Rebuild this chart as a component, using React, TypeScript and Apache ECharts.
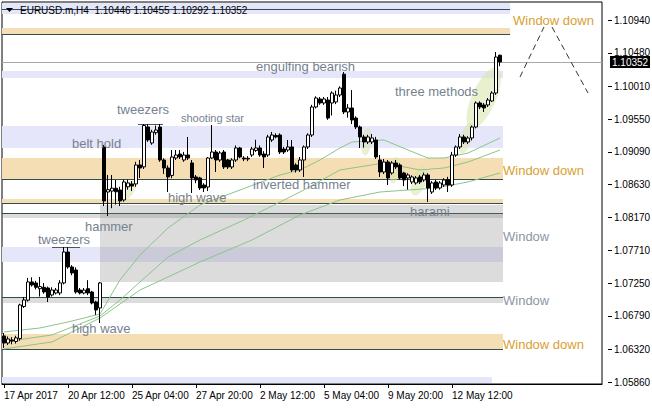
import React, { useEffect, useRef } from "react";
import * as echarts from "echarts";

// ---- data ----
const tickLabels = ["17 Apr 2017", "20 Apr 12:00", "25 Apr 04:00", "27 Apr 20:00", "2 May 12:00", "5 May 04:00", "9 May 20:00", "12 May 12:00"];
const priceTicks = [1.0586, 1.0632, 1.0679, 1.0725, 1.0771, 1.0817, 1.0863, 1.0909, 1.0955, 1.1001, 1.1048, 1.1094];

const opens = [
  1.06507, 1.06408, 1.06451, 1.0643, 1.0647, 1.0692, 1.0701, 1.07265, 1.0725, 1.0717,
  1.0719, 1.0718, 1.07082, 1.0711, 1.0711, 1.07251, 1.07685, 1.07475, 1.07433, 1.07152,
  1.0711, 1.0717, 1.07124, 1.06984, 1.069, 1.09159, 1.08527, 1.0854, 1.0858, 1.08555,
  1.08415, 1.086, 1.0864, 1.0864, 1.08906, 1.0888, 1.0944, 1.09215, 1.0936, 1.09439,
  1.08976, 1.08864, 1.0876, 1.09004, 1.0906, 1.08976, 1.09046, 1.08934, 1.08738, 1.08724,
  1.08625, 1.08597, 1.09004, 1.09088, 1.08976, 1.09088, 1.08976, 1.08878, 1.08976, 1.09145,
  1.09004, 1.0899, 1.09046, 1.0911, 1.09145, 1.0906, 1.09046, 1.09257, 1.0932, 1.09327,
  1.0913, 1.09116, 1.09159, 1.08906, 1.08836, 1.08976, 1.09159, 1.09327, 1.0972, 1.09832,
  1.09776, 1.09818, 1.09776, 1.0979, 1.09888, 1.1018, 1.0965, 1.09706, 1.09565, 1.09439,
  1.09299, 1.09229, 1.09229, 1.09257, 1.08976, 1.08808, 1.08948, 1.08794, 1.08934, 1.08906,
  1.08794, 1.08724, 1.08668, 1.08654, 1.08738, 1.08696, 1.08766, 1.08527, 1.08668, 1.08583,
  1.08625, 1.087, 1.08625, 1.09046, 1.09159, 1.09299, 1.09229, 1.09285, 1.09439, 1.09776,
  1.09748, 1.09748, 1.09804, 1.09916, 1.10446,
];
const highs = [
  1.06549, 1.065, 1.0649, 1.0651, 1.0696, 1.07054, 1.07321, 1.0733, 1.0728, 1.07335,
  1.0725, 1.072, 1.0719, 1.0718, 1.0729, 1.07756, 1.07756, 1.075, 1.0747, 1.0718,
  1.0718, 1.0729, 1.0714, 1.07, 1.07265, 1.09187, 1.08766, 1.08766, 1.08696, 1.086,
  1.087, 1.087, 1.0868, 1.0895, 1.08976, 1.09481, 1.09481, 1.094, 1.0946, 1.09481,
  1.09, 1.089, 1.09116, 1.09116, 1.09116, 1.0909, 1.09299, 1.08976, 1.08766, 1.0874,
  1.0865, 1.09018, 1.09467, 1.09116, 1.091, 1.09116, 1.0899, 1.09, 1.0918, 1.0916,
  1.0903, 1.0903, 1.0916, 1.0926, 1.0918, 1.091, 1.0933, 1.0937, 1.0935, 1.0935,
  1.0916, 1.09257, 1.09257, 1.0893, 1.09018, 1.0918, 1.0935, 1.0975, 1.0987, 1.0986,
  1.0986, 1.0986, 1.0994, 1.0995, 1.1001, 1.10211, 1.0976, 1.09958, 1.0959, 1.0946,
  1.0933, 1.0933, 1.0934, 1.093, 1.09046, 1.0899, 1.08976, 1.0896, 1.08976, 1.0893,
  1.0881, 1.0879, 1.0876, 1.0875, 1.08766, 1.088, 1.0879, 1.0868, 1.087, 1.0868,
  1.0872, 1.0874, 1.0909, 1.0918, 1.0934, 1.0933, 1.0931, 1.0946, 1.098, 1.098,
  1.09776, 1.09846, 1.0994, 1.10491, 1.10455,
];
const lows = [
  1.06339, 1.06381, 1.0639, 1.064, 1.0644, 1.069, 1.0699, 1.072, 1.0716, 1.0706,
  1.071, 1.06984, 1.0706, 1.0709, 1.0708, 1.0723, 1.0745, 1.0736, 1.071, 1.0709,
  1.0709, 1.0708, 1.0695, 1.06802, 1.06689, 1.0833, 1.0819, 1.083, 1.0835, 1.0833,
  1.0839, 1.0856, 1.0854, 1.086, 1.08724, 1.0885, 1.0923, 1.0919, 1.0933, 1.0895,
  1.0878, 1.08527, 1.0872, 1.08976, 1.0899, 1.0895, 1.08976, 1.08513, 1.0865, 1.08555,
  1.08527, 1.0854, 1.0899, 1.08808, 1.0895, 1.0885, 1.0885, 1.0885, 1.0895, 1.09,
  1.0896, 1.0896, 1.0902, 1.0909, 1.0902, 1.08864, 1.0902, 1.0923, 1.0928, 1.0906,
  1.0906, 1.0909, 1.08808, 1.088, 1.08808, 1.08738, 1.0913, 1.093, 1.097, 1.0975,
  1.0975, 1.0954, 1.096, 1.0976, 1.0986, 1.0962, 1.0957, 1.0948, 1.0941, 1.09145,
  1.0915, 1.092, 1.092, 1.0899, 1.08738, 1.0878, 1.08625, 1.0877, 1.0885, 1.087,
  1.0861, 1.0856, 1.0864, 1.0863, 1.0864, 1.0867, 1.08387, 1.085, 1.08555, 1.0856,
  1.086, 1.08527, 1.086, 1.0902, 1.0913, 1.092, 1.092, 1.0925, 1.0942, 1.0969,
  1.0965, 1.0972, 1.0979, 1.0989, 1.10292,
];
const closes = [
  1.06408, 1.06465, 1.06435, 1.0648, 1.06942, 1.07012, 1.07265, 1.07222, 1.0719, 1.072,
  1.07124, 1.07054, 1.07152, 1.07152, 1.07251, 1.07685, 1.07475, 1.07391, 1.07124, 1.0711,
  1.0715, 1.0711, 1.0697, 1.06872, 1.07251, 1.08401, 1.0856, 1.0858, 1.0853, 1.08401,
  1.08668, 1.08654, 1.0861, 1.08906, 1.08864, 1.0946, 1.09257, 1.09369, 1.09397, 1.08976,
  1.08864, 1.08738, 1.09018, 1.09046, 1.09018, 1.09046, 1.09004, 1.08724, 1.08696, 1.08583,
  1.08583, 1.09004, 1.09088, 1.08976, 1.09074, 1.08878, 1.08878, 1.08976, 1.09145, 1.09018,
  1.0899, 1.09, 1.0913, 1.09145, 1.09046, 1.09018, 1.09299, 1.09327, 1.093, 1.09088,
  1.09088, 1.09159, 1.08836, 1.08836, 1.08976, 1.09159, 1.09327, 1.0972, 1.09846, 1.09776,
  1.09832, 1.09565, 1.09916, 1.09888, 1.09986, 1.0965, 1.09706, 1.09537, 1.09439, 1.09299,
  1.09229, 1.09299, 1.09285, 1.09018, 1.08808, 1.08948, 1.08724, 1.08934, 1.08878, 1.08724,
  1.08696, 1.08766, 1.08738, 1.08724, 1.08668, 1.08766, 1.08583, 1.08654, 1.08583, 1.08654,
  1.08696, 1.08625, 1.09046, 1.09159, 1.09299, 1.09229, 1.09285, 1.09439, 1.09776, 1.0972,
  1.09706, 1.09818, 1.09916, 1.10421, 1.10352,
];

// moving averages at sample bars: [barIndex, price]
const maFast = [[0, 1.06563], [9, 1.06619], [16, 1.06703], [24, 1.06815], [29, 1.07293], [34, 1.07643], [41, 1.08022], [49, 1.08345], [59, 1.08555], [69, 1.08766], [74, 1.08836], [79, 1.08976], [84, 1.09145], [87, 1.09229], [95, 1.09257], [101, 1.09116], [106, 1.09004], [110, 1.09004], [116, 1.09074], [124, 1.09285]];
const maMid = [[0, 1.06423], [12, 1.06521], [24, 1.06787], [29, 1.07012], [34, 1.07265], [41, 1.07615], [49, 1.07854], [60, 1.08134], [74, 1.08527], [84, 1.08836], [95, 1.08934], [104, 1.08836], [110, 1.08864], [116, 1.08948], [124, 1.09116]];
const maSlow = [[0, 1.06325], [12, 1.06423], [24, 1.06759], [34, 1.07152], [41, 1.07335], [49, 1.07545], [62, 1.07854], [74, 1.08204], [84, 1.08415], [94, 1.08527], [108, 1.08583], [116, 1.08668], [124, 1.08794]];

// forecast legs: [barIndex, price]
const forecastUp = [[129, 1.10141], [135, 1.10842]];
const forecastDown = [[137, 1.10842], [146, 1.09916]];

// zones: [low, high, endBar, kind, linePrice|null, startBar|null]
const zones: [number, number, number, string, number | null, number | null][] = [
  [1.11024, 1.11179, 126.5, "lav", 1.11095, null],
  [1.10744, 1.10828, 126.5, "wheat", 1.10744, null],
  [1.10126, 1.10225, 124.75, "lav", null, null],
  [1.09145, 1.09453, 124.75, "lav", null, null],
  [1.08709, 1.09004, 124.75, "wheat", 1.08709, null],
  [1.08373, 1.08429, 124.75, "wheat", 1.08373, null],
  [1.08162, 1.08232, 124.75, "grey", 1.08232, null],
  [1.07545, 1.07756, 124.75, "lav", null, null],
  [1.07265, 1.08345, 124.75, "grey", null, 24],
  [1.0697, 1.07054, 124.75, "grey", 1.07054, null],
  [1.06324, 1.06535, 124.75, "wheat", 1.06324, null],
  [1.05846, 1.05932, 122, "lav", null, null],
];

// pattern highlights: [barA, priceA, barB, priceB, halfWidthPx]
const highlights = [
  [29.8, 1.0841, 32.7, 1.0869, 5],
  [90.2, 1.0904, 91.0, 1.0942, 5],
  [97.2, 1.0865, 98.0, 1.0902, 5],
  [102.5, 1.0848, 105.0, 1.0888, 7],
  [114.3, 1.0907, 116.8, 1.095, 6],
  [116.6, 1.0942, 123.3, 1.1027, 12],
];

// tweezers tops: [startBar, endBar, price]
const tweezerLines = [
  [33.5, 39.75, 1.09481],
  [12, 19, 1.07756],
];

const TOTAL_BARS = 150;

function buildCategories(n: number): string[] {
  const out: string[] = [];
  let t = Date.UTC(2017, 3, 17, 20);
  while (out.length < n) {
    const d = new Date(t);
    const wd = d.getUTCDay();
    if (wd !== 0 && wd !== 6) {
      out.push(d.toISOString().slice(0, 16).replace("T", " "));
    }
    t += 4 * 3600 * 1000;
  }
  return out;
}

function sparse(points: number[][], n: number): (number | null)[] {
  const arr: (number | null)[] = new Array(n).fill(null);
  points.forEach(([i, v]) => (arr[i] = v));
  return arr;
}

const FONT = "'Liberation Sans', Arial, sans-serif";
const ZONE_FILL: Record<string, string> = {
  lav: "#e6e6fa",
  wheat: "#f5deb3",
  grey: "rgba(128,128,128,0.28)",
};

export default function App() {
  const ref = useRef<HTMLDivElement>(null);

  useEffect(() => {
    if (!ref.current) return;
    const chart = echarts.init(ref.current, null, { renderer: "svg" });
    const categories = buildCategories(TOTAL_BARS);
    const candles = opens.map((o, i) => [o, closes[i], lows[i], highs[i]]);
    const lastClose = closes[closes.length - 1];

    const patternColor = "#76828f";
    const windowColor = "#8d96a3";
    const downColor = "#d9a032";

    const label = (text: string, x: number, y: number, fill: string, size = 13) => ({
      type: "text",
      x,
      y,
      z: 100,
      style: { text, fill, font: `${size}px ${FONT}`, verticalAlign: "middle" },
    });

    const option: any = {
      animation: false,
      backgroundColor: "#ffffff",
      grid: {
        left: 2,
        right: 50,
        top: 2,
        bottom: 24,
        show: true,
        borderColor: "#000",
        borderWidth: 1,
        backgroundColor: "#fff",
        outerBoundsMode: "none",
      },
      xAxis: {
        type: "category",
        data: categories,
        boundaryGap: true,
        axisLine: { show: true, lineStyle: { color: "#000" } },
        axisTick: {
          show: true,
          length: 4,
          alignWithLabel: true,
          interval: (i: number) => i % 16 === 0 && i / 16 < tickLabels.length,
          lineStyle: { color: "#000" },
        },
        axisLabel: {
          interval: (i: number) => i % 16 === 0 && i / 16 < tickLabels.length,
          formatter: (_v: string, i: number) => tickLabels[i / 16] ?? "",
          align: "left",
          color: "#000",
          fontSize: 10,
          fontFamily: FONT,
          margin: 6,
        },
        splitLine: { show: false },
      },
      yAxis: {
        type: "value",
        position: "right",
        min: 1.05833,
        max: 1.11193,
        offset: 6,
        splitLine: { show: false },
        axisLine: { show: false },
        axisTick: { show: true, length: 4, customValues: priceTicks, lineStyle: { color: "#000" } },
        axisLabel: {
          customValues: priceTicks,
          formatter: (v: number) => v.toFixed(5),
          color: "#000",
          fontSize: 10,
          fontFamily: FONT,
          margin: 6,
        },
      },
      series: [
        {
          type: "custom",
          name: "zones",
          z: 1,
          silent: true,
          data: zones.map((zz) => [0, zz[0]]),
          renderItem: (params: any, api: any) => {
            const [lo, hi, end, kind, line, start] = zones[params.dataIndex];
            const cs = params.coordSys;
            const band = api.size([1, 0])[0];
            const c0 = api.coord([0, hi]);
            const x0 = start == null ? cs.x : c0[0] + start * band;
            const x1 = c0[0] + end * band;
            const yTop = c0[1];
            const yBot = api.coord([0, lo])[1];
            const children: any[] = [
              { type: "rect", shape: { x: x0, y: yTop, width: x1 - x0, height: yBot - yTop }, style: { fill: ZONE_FILL[kind] } },
            ];
            if (line != null) {
              const yl = Math.round(api.coord([0, line])[1]) + 0.5;
              children.push({ type: "line", shape: { x1: x0, y1: yl, x2: x1, y2: yl }, style: { stroke: "#2f4f4f", lineWidth: 1 } });
            }
            return { type: "group", children };
          },
        },
        {
          type: "custom",
          name: "highlights",
          z: 2,
          silent: true,
          data: highlights.map((h) => [0, h[1]]),
          renderItem: (params: any, api: any) => {
            const [ia, pa, ib, pb, hw] = highlights[params.dataIndex];
            const band = api.size([1, 0])[0];
            const c0 = api.coord([0, pa]);
            const ax = c0[0] + ia * band;
            const ay = c0[1];
            const bx = c0[0] + ib * band;
            const by = api.coord([0, pb])[1];
            const cx = (ax + bx) / 2;
            const cy = (ay + by) / 2;
            const a = Math.hypot(bx - ax, by - ay) / 2;
            const ang = Math.atan2(by - ay, bx - ax);
            const pts: number[][] = [];
            for (let k = 0; k < 48; k++) {
              const t = (k / 48) * Math.PI * 2;
              const lx = a * Math.cos(t);
              const ly = hw * Math.sin(t);
              pts.push([cx + lx * Math.cos(ang) - ly * Math.sin(ang), cy + lx * Math.sin(ang) + ly * Math.cos(ang)]);
            }
            return { type: "polygon", shape: { points: pts }, style: { fill: "rgba(214,228,170,0.55)" } };
          },
        },
        {
          type: "custom",
          name: "tweezers",
          z: 3,
          silent: true,
          data: tweezerLines.map((t) => [0, t[2]]),
          renderItem: (params: any, api: any) => {
            const [s, e, p] = tweezerLines[params.dataIndex];
            const band = api.size([1, 0])[0];
            const c0 = api.coord([0, p]);
            const y = Math.round(c0[1]) + 0.5;
            return { type: "line", shape: { x1: c0[0] + s * band, y1: y, x2: c0[0] + e * band, y2: y }, style: { stroke: "#555", lineWidth: 1 } };
          },
        },
        ...[maFast, maMid, maSlow].map((m) => ({
          type: "line",
          z: 3,
          silent: true,
          showSymbol: false,
          connectNulls: true,
          data: sparse(m, TOTAL_BARS),
          lineStyle: { color: "#8cc38c", width: 1 },
        })),
        {
          type: "custom",
          name: "lastPrice",
          z: 4,
          silent: true,
          data: [[0, lastClose]],
          renderItem: (params: any, api: any) => {
            const cs = params.coordSys;
            const y = Math.round(api.coord([0, lastClose])[1]) + 0.5;
            const bx = cs.x + cs.width + 8;
            return {
              type: "group",
              children: [
                { type: "line", shape: { x1: cs.x, y1: y, x2: cs.x + cs.width, y2: y }, style: { stroke: "#a9a9a9", lineWidth: 1 } },
                { type: "rect", z2: 10, shape: { x: bx, y: y - 6.5, width: 40, height: 12 }, style: { fill: "#000" } },
                {
                  type: "text",
                  z2: 11,
                  x: bx + 2,
                  y: y,
                  style: { text: lastClose.toFixed(5), fill: "#fff", font: `10px ${FONT}`, verticalAlign: "middle" },
                },
              ],
            };
          },
        },
        {
          type: "candlestick",
          name: "EURUSD",
          z: 5,
          barWidth: 3,
          data: candles,
          itemStyle: {
            color: "#ffffff",
            color0: "#000000",
            borderColor: "#000000",
            borderColor0: "#000000",
            borderWidth: 1,
          },
        },
        ...[forecastUp, forecastDown].map((f) => ({
          type: "line",
          z: 5,
          silent: true,
          showSymbol: false,
          connectNulls: true,
          data: sparse(f, TOTAL_BARS),
          lineStyle: { color: "#333", width: 1, type: [6, 4] },
        })),
      ],
      graphic: [
        { type: "polygon", shape: { points: [[6, 8], [13, 8], [9.5, 12]] }, style: { fill: "#000" }, z: 100 },
        label("EURUSD.m,H4  1.10446 1.10455 1.10292 1.10352", 20, 10, "#000", 10),
        label("engulfing bearish", 256, 66, patternColor),
        label("three methods", 395, 91, patternColor),
        label("tweezers", 117, 109, patternColor),
        label("shooting star", 181, 118, patternColor, 11),
        label("belt hold", 72, 143, patternColor),
        label("inverted hammer", 253, 184, patternColor),
        label("high wave", 168, 197, patternColor),
        label("harami", 410, 211, patternColor),
        label("hammer", 85, 226, patternColor),
        label("tweezers", 38, 239, patternColor),
        label("high wave", 72, 328, patternColor),
        label("Window down", 513, 20, downColor),
        label("Window down", 503, 170, downColor),
        label("Window", 503, 236, windowColor),
        label("Window", 503, 300, windowColor),
        label("Window down", 503, 344, downColor),
      ],
    };

    chart.setOption(option);
    return () => chart.dispose();
  }, []);

  return (
    <div
      ref={ref}
      style={{ position: "absolute", left: 0, top: 0, width: 652, height: 408, background: "#fff" }}
    />
  );
}
